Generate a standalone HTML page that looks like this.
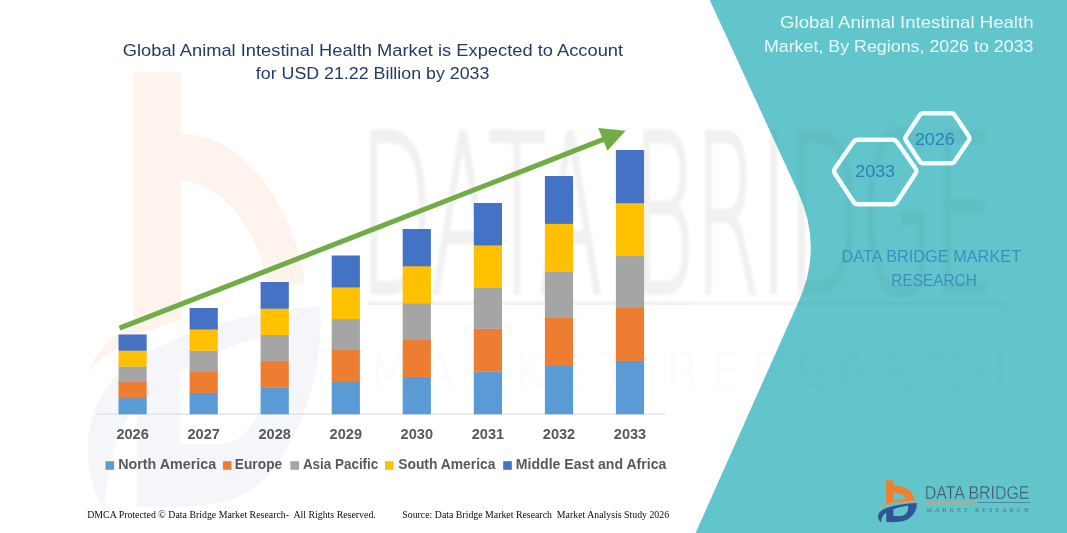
<!DOCTYPE html>
<html><head><meta charset="utf-8"><title>Global Animal Intestinal Health Market</title>
<style>
html,body{margin:0;padding:0;background:#fff;}
body{width:1067px;height:533px;overflow:hidden;font-family:"Liberation Sans",sans-serif;}
svg{display:block}
.t{font-family:"Liberation Sans",sans-serif}
.s{font-family:"Liberation Serif",serif}
</style></head><body>
<svg width="1067" height="533" viewBox="0 0 1067 533">
<rect width="1067" height="533" fill="#ffffff"/>
<!-- watermark left -->
<path opacity="0.085" fill="#F0802F" d="M133,72 L181,72 L181,134 C235,134 290,190 305,283 L268,291 C262,235 225,183 181,181 L181,320 C150,328 115,345 88,372 C100,345 118,332 133,324 Z"/>
<g transform="translate(136,67) scale(6,10.5) translate(-886.1,-480.2)">

<path opacity="0.05" fill-rule="evenodd" fill="#2F5597" d="M880.9,522.7 C875.5,517 878,511 886.3,508 C895,505 907,503.3 916.8,503 C917.3,508 915,514 909,518.5 C904,522 898,522.3 886.3,522.1 L886.3,512.5 C883,514.5 881.2,518 880.9,522.7 Z M893.4,509.3 C898,507.6 903,506.4 908.1,505.8 C908.4,508.5 908,510.5 907,512.3 C905.5,514.8 903,516.1 900.5,516.1 L893.4,516.1 Z"/>
</g>
<!-- teal panel -->
<path d="M709.7,0 L798,192 Q823.6,247.5 798,303 L695.6,533 L1067,533 L1067,0 Z" fill="#62C5CB"/>
<!-- watermark text -->
<defs><filter id="bl" x="-5%" y="-5%" width="110%" height="110%"><feGaussianBlur stdDeviation="1.6"/></filter>
<clipPath id="cw"><path d="M0,0 L709.7,0 L798,192 Q823.6,247.5 798,303 L695.6,533 L0,533 Z"/></clipPath>
<clipPath id="ct"><path d="M709.7,0 L798,192 Q823.6,247.5 798,303 L695.6,533 L1067,533 L1067,0 Z"/></clipPath></defs>
<g clip-path="url(#cw)"><g fill="#000" opacity="0.055" filter="url(#bl)" style="font-family:'DejaVu Sans Light','DejaVu Sans','Liberation Sans',sans-serif" font-weight="200">
<text x="360" y="292" font-size="219" textLength="633" lengthAdjust="spacingAndGlyphs" stroke="#000" stroke-width="5">DATA BRIDGE</text>
<text x="368" y="388" font-size="50" textLength="640" lengthAdjust="spacing" opacity="0.5">MARKET RESEARCH</text>
</g></g>
<g clip-path="url(#ct)"><g fill="#000" opacity="0.032" filter="url(#bl)" style="font-family:'DejaVu Sans Light','DejaVu Sans','Liberation Sans',sans-serif" font-weight="200">
<text x="360" y="292" font-size="219" textLength="633" lengthAdjust="spacingAndGlyphs" stroke="#000" stroke-width="5">DATA BRIDGE</text>
<text x="368" y="388" font-size="50" textLength="640" lengthAdjust="spacing" opacity="0.5">MARKET RESEARCH</text>
</g></g>
<rect x="368" y="301.5" width="324" height="3.4" fill="#C8703A" opacity="0.1"/><rect x="692" y="301.5" width="312" height="3.4" fill="#2F5597" opacity="0.06"/>
<!-- titles -->
<g class="t" fill="#243A68" font-size="16.8">
<text x="122.8" y="55.5" textLength="500.3" lengthAdjust="spacingAndGlyphs">Global Animal Intestinal Health Market is Expected to Account</text>
<text x="255.8" y="79.1" textLength="233.6" lengthAdjust="spacingAndGlyphs">for USD 21.22 Billion by 2033</text>
</g>
<g class="t" fill="#E9FAFB" font-size="16.6">
<text x="780.1" y="28.1" textLength="253.4" lengthAdjust="spacingAndGlyphs">Global Animal Intestinal Health</text>
<text x="763.9" y="52" textLength="269.6" lengthAdjust="spacingAndGlyphs">Market, By Regions, 2026 to 2033</text>
</g>
<!-- axis -->
<rect x="97" y="413.6" width="568" height="1" fill="#D9D9D9"/>
<!-- bars -->
<rect x="118.5" y="397.9" width="28.2" height="16.4" fill="#5B9BD5"/>
<rect x="118.5" y="381.8" width="28.2" height="16.4" fill="#ED7D31"/>
<rect x="118.5" y="366.3" width="28.2" height="15.8" fill="#A5A5A5"/>
<rect x="118.5" y="350.4" width="28.2" height="16.2" fill="#FFC000"/>
<rect x="118.5" y="334.5" width="28.2" height="16.2" fill="#4472C4"/>
<rect x="189.6" y="392.5" width="28.2" height="21.8" fill="#5B9BD5"/>
<rect x="189.6" y="371.1" width="28.2" height="21.8" fill="#ED7D31"/>
<rect x="189.6" y="350.5" width="28.2" height="20.9" fill="#A5A5A5"/>
<rect x="189.6" y="329.2" width="28.2" height="21.5" fill="#FFC000"/>
<rect x="189.6" y="308.0" width="28.2" height="21.5" fill="#4472C4"/>
<rect x="260.6" y="387.3" width="28.2" height="27.0" fill="#5B9BD5"/>
<rect x="260.6" y="360.5" width="28.2" height="27.0" fill="#ED7D31"/>
<rect x="260.6" y="334.9" width="28.2" height="26.0" fill="#A5A5A5"/>
<rect x="260.6" y="308.4" width="28.2" height="26.7" fill="#FFC000"/>
<rect x="260.6" y="282.0" width="28.2" height="26.7" fill="#4472C4"/>
<rect x="331.7" y="381.9" width="28.2" height="32.4" fill="#5B9BD5"/>
<rect x="331.7" y="349.8" width="28.2" height="32.4" fill="#ED7D31"/>
<rect x="331.7" y="319.0" width="28.2" height="31.1" fill="#A5A5A5"/>
<rect x="331.7" y="287.2" width="28.2" height="32.0" fill="#FFC000"/>
<rect x="331.7" y="255.5" width="28.2" height="32.0" fill="#4472C4"/>
<rect x="402.7" y="376.5" width="28.2" height="37.8" fill="#5B9BD5"/>
<rect x="402.7" y="339.1" width="28.2" height="37.8" fill="#ED7D31"/>
<rect x="402.7" y="303.1" width="28.2" height="36.3" fill="#A5A5A5"/>
<rect x="402.7" y="266.0" width="28.2" height="37.4" fill="#FFC000"/>
<rect x="402.7" y="229.0" width="28.2" height="37.3" fill="#4472C4"/>
<rect x="473.8" y="371.3" width="28.2" height="43.0" fill="#5B9BD5"/>
<rect x="473.8" y="328.5" width="28.2" height="43.0" fill="#ED7D31"/>
<rect x="473.8" y="287.5" width="28.2" height="41.3" fill="#A5A5A5"/>
<rect x="473.8" y="245.2" width="28.2" height="42.6" fill="#FFC000"/>
<rect x="473.8" y="203.0" width="28.2" height="42.5" fill="#4472C4"/>
<rect x="544.9" y="365.8" width="28.2" height="48.5" fill="#5B9BD5"/>
<rect x="544.9" y="317.6" width="28.2" height="48.5" fill="#ED7D31"/>
<rect x="544.9" y="271.3" width="28.2" height="46.6" fill="#A5A5A5"/>
<rect x="544.9" y="223.6" width="28.2" height="48.0" fill="#FFC000"/>
<rect x="544.9" y="176.0" width="28.2" height="47.9" fill="#4472C4"/>
<rect x="615.9" y="360.5" width="28.2" height="53.8" fill="#5B9BD5"/>
<rect x="615.9" y="307.1" width="28.2" height="53.8" fill="#ED7D31"/>
<rect x="615.9" y="255.7" width="28.2" height="51.6" fill="#A5A5A5"/>
<rect x="615.9" y="202.9" width="28.2" height="53.2" fill="#FFC000"/>
<rect x="615.9" y="150.0" width="28.2" height="53.2" fill="#4472C4"/>
<!-- arrow -->
<path d="M119.5,328.2 L604,139.2" stroke="#70AD47" stroke-width="5.1" fill="none"/>
<path d="M625.6,130.8 L598.2,128.1 L607.5,150.7 Z" fill="#70AD47"/>
<!-- year labels -->
<g class="t" font-weight="bold" font-size="13.8" fill="#595959"><text x="116.4" y="439" textLength="32.4" lengthAdjust="spacingAndGlyphs">2026</text><text x="187.5" y="439" textLength="32.4" lengthAdjust="spacingAndGlyphs">2027</text><text x="258.5" y="439" textLength="32.4" lengthAdjust="spacingAndGlyphs">2028</text><text x="329.6" y="439" textLength="32.4" lengthAdjust="spacingAndGlyphs">2029</text><text x="400.6" y="439" textLength="32.4" lengthAdjust="spacingAndGlyphs">2030</text><text x="471.7" y="439" textLength="32.4" lengthAdjust="spacingAndGlyphs">2031</text><text x="542.8" y="439" textLength="32.4" lengthAdjust="spacingAndGlyphs">2032</text><text x="613.8" y="439" textLength="32.4" lengthAdjust="spacingAndGlyphs">2033</text></g>
<!-- legend -->
<g class="t" font-weight="bold" font-size="14.3" fill="#595959">
<rect x="105.5" y="461.2" width="8.6" height="8.6" fill="#5B9BD5"/>
<text x="118.2" y="469" textLength="98" lengthAdjust="spacingAndGlyphs">North America</text>
<rect x="222.9" y="461.2" width="8.6" height="8.6" fill="#ED7D31"/>
<text x="234.8" y="469" textLength="47.4" lengthAdjust="spacingAndGlyphs">Europe</text>
<rect x="290.4" y="461.2" width="8.6" height="8.6" fill="#A5A5A5"/>
<text x="302.9" y="469" textLength="75.4" lengthAdjust="spacingAndGlyphs">Asia Pacific</text>
<rect x="385" y="461.2" width="8.6" height="8.6" fill="#FFC000"/>
<text x="398.2" y="469" textLength="97.3" lengthAdjust="spacingAndGlyphs">South America</text>
<rect x="503.2" y="461.2" width="8.6" height="8.6" fill="#4472C4"/>
<text x="515.8" y="469" textLength="150.6" lengthAdjust="spacingAndGlyphs">Middle East and Africa</text>
</g>
<!-- footer -->
<g class="s" font-size="10" fill="#0a0a0a">
<text x="87.2" y="518" textLength="288.6" lengthAdjust="spacingAndGlyphs" xml:space="preserve">DMCA Protected © Data Bridge Market Research-  All Rights Reserved.</text>
<text x="402.3" y="518" textLength="266.8" lengthAdjust="spacingAndGlyphs" xml:space="preserve">Source: Data Bridge Market Research  Market Analysis Study 2026</text>
</g>
<!-- hexagons -->
<g fill="none" stroke="#F4FDFD" stroke-width="4.4" stroke-linejoin="round">
<path d="M834.8,173.5 Q833.2,171.0 834.9,168.5 L853.3,142.3 Q855.0,139.8 858.0,139.8 L892.5,139.8 Q895.5,139.8 897.2,142.3 L915.5,168.5 Q917.2,171.0 915.6,173.5 L897.1,201.7 Q895.5,204.2 892.5,204.2 L858.0,204.2 Q855.0,204.2 853.4,201.7 Z"/>
<path d="M906.0,140.5 Q904.6,138.3 906.0,136.1 L919.6,115.5 Q921.0,113.3 923.6,113.3 L950.9,113.3 Q953.5,113.3 954.9,115.5 L968.8,136.1 Q970.2,138.3 968.8,140.5 L954.9,161.1 Q953.5,163.3 950.9,163.3 L923.6,163.3 Q921.0,163.3 919.6,161.1 Z"/>
</g>
<g class="t" fill="#2C80BA" font-size="17.3">
<text x="855.2" y="177.2" textLength="39.9" lengthAdjust="spacingAndGlyphs">2033</text>
<text x="914.9" y="145" textLength="39.9" lengthAdjust="spacingAndGlyphs">2026</text>
</g>
<g class="t" fill="#3B8FC2" font-size="17.3">
<text x="841.5" y="262.4" textLength="179.6" lengthAdjust="spacingAndGlyphs">DATA BRIDGE MARKET</text>
<text x="891.3" y="286.1" textLength="85.5" lengthAdjust="spacingAndGlyphs">RESEARCH</text>
</g>
<!-- logo -->
<g>
<path fill-rule="evenodd" fill="#F0802F" d="M886.1,480.2 L893.4,480.2 L893.4,485.8 C903,485 913,490 914.9,500.3 C905,501 895,502 886.1,503.8 Z M893.4,492.8 C899,492.5 904.5,494.5 906,499 C902,499.3 897,500 893.4,500.8 Z"/>
<path d="M876.5,507.6 C888,503.2 905,501.4 919,502.2" stroke="#E9955A" stroke-width="0.9" fill="none"/>
<path fill-rule="evenodd" fill="#2F5597" d="M880.9,522.7 C875.5,517 878,511 886.3,508 C895,505 907,503.3 916.8,503 C917.3,508 915,514 909,518.5 C904,522 898,522.3 886.3,522.1 L886.3,512.5 C883,514.5 881.2,518 880.9,522.7 Z M893.4,509.3 C898,507.6 903,506.4 908.1,505.8 C908.4,508.5 908,510.5 907,512.3 C905.5,514.8 903,516.1 900.5,516.1 L893.4,516.1 Z"/>
<g class="t" fill="#44566A">
<text x="924.8" y="499.2" font-size="17.5" textLength="104.6" lengthAdjust="spacingAndGlyphs" stroke="#62C5CB" stroke-width="0.35">DATA BRIDGE</text>
<text class="s" x="926.2" y="511.8" font-size="6.6" textLength="102.5" lengthAdjust="spacing" fill="#4E7486">MARKET RESEARCH</text>
</g>
<rect x="925.9" y="502" width="51.6" height="0.9" fill="#D9A07A"/>
<rect x="977.5" y="502" width="52.5" height="0.9" fill="#4F7FA8"/>
</g>
</svg>
</body></html>
